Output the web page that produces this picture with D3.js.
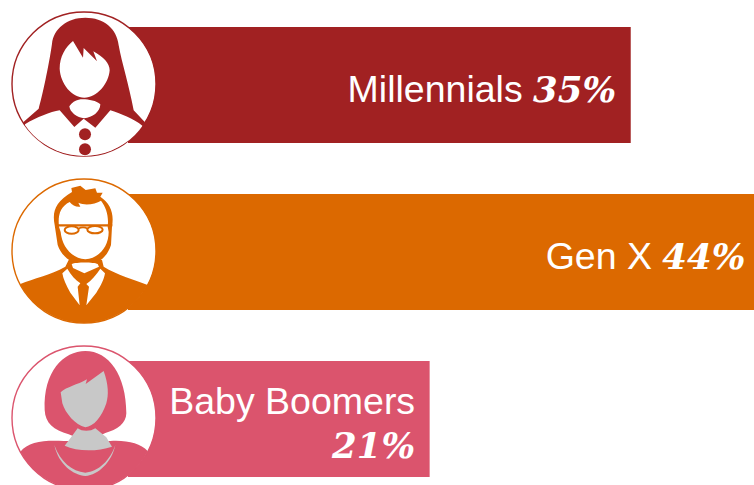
<!DOCTYPE html>
<html><head><meta charset="utf-8">
<script src="https://cdn.jsdelivr.net/npm/d3@7/dist/d3.min.js"></script>
<style>html,body{margin:0;padding:0;background:#fff;overflow:hidden}svg{display:block}</style>
</head><body><div id="chart"></div>
<script>
const categories = ["Millennials", "Gen X", "Baby Boomers"];
const values = [35, 44, 21];
const colors = ["#A12122", "#DC6900", "#DB546D"];
const iconCenterY = [251, 243, 249];
const W = 754, H = 485;

const x = d3.scaleLinear().domain([0, 44]).range([128, 760]);
const y = d3.scaleBand().domain(categories).range([27, 477]).paddingInner(51 / 167).paddingOuter(0);

const svg = d3.select("#chart").append("svg").attr("width", W).attr("height", H);

const defs = svg.append("defs");
defs.append("clipPath").attr("id", "iconClip").append("circle")
  .attr("cx", 251).attr("cy", 0).attr("r", 216);

const rows = svg.selectAll("g.row").data(categories).join("g").attr("class", "row");

rows.append("rect")
  .attr("x", x(0)).attr("y", d => y(d))
  .attr("width", (d, i) => x(values[i]) - x(0))
  .attr("height", y.bandwidth())
  .attr("fill", (d, i) => colors[i]);

const icons = [
  function (g, c) {
    g.append("path").attr("fill", c).attr("d",
      "M66,368 L115,325 C125,290 145,200 155,130 C160,85 200,52 255,52 C310,52 350,85 355,135 C365,190 385,250 400,330 L436,368 L400,400 L100,400 Z");
    g.append("path").attr("fill", "#fff").attr("d",
      "M74,372 C110,350 150,335 178,330 L222,380 L250,355 L285,382 L330,330 C360,340 400,355 426,376 L426,480 L74,480 Z");
    g.append("path").attr("fill", "#fff").attr("d",
      "M207,318 C215,305 225,300 235,298 C250,295 285,298 300,312 C300,335 275,352 252,354 C230,352 208,335 207,318 Z");
    g.append("path").attr("fill", "#fff").attr("d",
      "M178,205 C178,170 195,140 218,122 L248,172 L250,143 L290,183 L279,153 C310,170 328,190 328,210 C325,250 290,292 252,292 C215,292 180,250 178,205 Z");
    g.append("circle").attr("cx", 254).attr("cy", 402).attr("r", 18).attr("fill", c);
    g.append("circle").attr("cx", 254).attr("cy", 447).attr("r", 18).attr("fill", c);
  },
  function (g, c) {
    g.append("path").attr("fill", c).attr("d",
      "M60,342 C100,325 150,315 195,290 L205,270 L305,270 L310,290 C350,315 400,328 442,345 L480,480 L20,480 Z");
    g.append("path").attr("fill", c).attr("d",
      "M163,165 C155,125 165,95 215,66 L213,54 L240,47 L256,60 L285,55 L290,68 L307,68 L300,80 C330,100 342,130 335,170 L332,225 C320,262 295,282 255,284 C215,282 185,262 172,225 Z");
    g.append("path").attr("fill", "#fff").attr("d",
      "M176,170 C172,135 180,110 208,96 C216,106 228,112 240,110 L234,98 C255,108 285,102 302,92 C318,112 326,140 322,170 L325,186 C325,230 295,266 255,268 C215,266 185,230 181,186 Z");
    g.append("path").attr("fill", "none").attr("stroke", c).attr("stroke-width", 7).attr("d", "M168,166 L336,166");
    g.append("path").attr("fill", "none").attr("stroke", c).attr("stroke-width", 5).attr("d", "M234,176 Q248,168 262,176");
    g.append("ellipse").attr("cx", 214).attr("cy", 180).attr("rx", 21).attr("ry", 11).attr("fill", "#fff").attr("stroke", c).attr("stroke-width", 6);
    g.append("ellipse").attr("cx", 284).attr("cy", 179).attr("rx", 23).attr("ry", 11).attr("fill", "#fff").attr("stroke", c).attr("stroke-width", 6);
    g.append("path").attr("fill", "#fff").attr("d",
      "M214,282 C228,276 280,276 292,282 L296,290 L252,310 L218,294 Z");
    g.append("path").attr("fill", "#fff").attr("d",
      "M186,310 L201,296 C212,315 225,330 240,340 L232,350 L238,406 L210,368 C197,345 189,328 186,310 Z");
    g.append("path").attr("fill", "#fff").attr("d",
      "M314,310 L300,296 C288,315 272,332 258,342 L266,350 L258,406 L288,368 C303,345 311,328 314,310 Z");
  },
  function (g, c) {
    g.append("path").attr("fill", c).attr("d",
      "M60,350 C85,320 130,315 190,318 L330,318 C380,315 420,325 442,348 L480,480 L20,480 Z");
    g.append("path").attr("fill", c).attr("d",
      "M205,298 C160,285 135,265 133,225 C128,110 190,48 255,48 C325,48 378,120 378,235 C378,265 350,285 315,294 L260,320 Z");
    const grey = "#C8C8C8";
    g.append("path").attr("fill", grey).attr("d",
      "M232,280 C245,290 270,290 285,280 L318,307 L335,335 C290,350 230,350 193,332 L210,310 Z");
    g.append("path").attr("fill", grey).attr("d",
      "M181,172 C200,155 230,150 260,133 L256,147 L310,108 C325,150 325,180 318,205 C305,245 280,275 255,277 C225,270 195,235 186,205 Z");
    g.append("path").attr("fill", grey).attr("d",
      "M162,330 C175,390 220,420 255,423 C295,420 335,380 345,330 C330,375 295,410 255,413 C215,410 180,380 162,330 Z");
  }
];

rows.each(function (d, i) {
  const row = d3.select(this);
  const cy = y(d) + y.bandwidth() / 2 - 1;
  const cx = 84;
  row.append("circle").attr("cx", cx).attr("cy", cy).attr("r", 72)
    .attr("fill", "#fff").attr("stroke", colors[i]).attr("stroke-width", 1.4);
  const g = row.append("g")
    .attr("transform", `translate(${cx},${cy}) scale(${1 / 3}) translate(-251,0)`)
    .attr("clip-path", "url(#iconClip)")
    .append("g").attr("transform", `translate(0,${-iconCenterY[i]})`);
  icons[i](g, colors[i]);

  const right = x(values[i]) - 14.5;
  const text = row.append("text").attr("fill", "#fff").attr("text-anchor", "end");
  const wrap = x(values[i]) - x(0) < 330;
  const base = y(d) + y.bandwidth() / 2 + 17;
  text.append("tspan").attr("x", right)
    .attr("y", wrap ? y(d) + 53 : base)
    .style("font-family", "'Liberation Sans', Arial, sans-serif")
    .style("font-size", "37.5px")
    .text(wrap ? d : d + " ");
  const valSpan = text.append("tspan")
    .style("font-family", "'DejaVu Serif', serif")
    .style("font-weight", "bold").style("font-style", "italic")
    .style("font-size", "35.5px")
    .text(values[i] + "%");
  if (wrap) valSpan.attr("x", right).attr("y", y(d) + 97);
});
</script></body></html>
